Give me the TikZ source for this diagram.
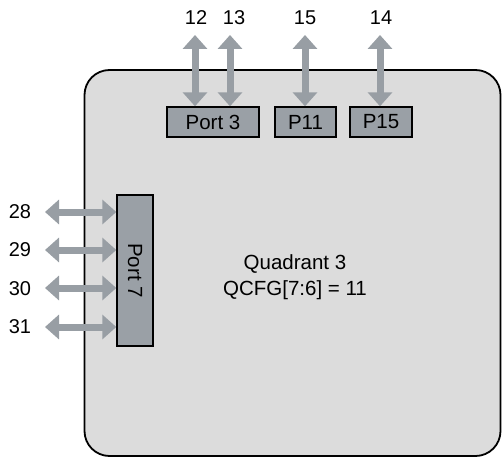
\documentclass[tikz,border=0pt]{standalone}
\usepackage{fontspec}
\setmainfont{Liberation Sans}
\usetikzlibrary{arrows.meta}
\definecolor{bgfill}{HTML}{DCDCDC}
\definecolor{portfill}{HTML}{9AA0A6}
\definecolor{arrowgray}{HTML}{989EA4}
\tikzset{
  tipA/.tip={Triangle[width=24pt,length=14pt]},
}
\begin{document}
\begin{tikzpicture}[x=1pt,y=-1pt,
  lbl/.style={font=\fontsize{20}{24}\selectfont, inner sep=0pt},
  portbox/.style={draw=black, line width=1.4pt, fill=portfill, inner sep=0pt, font=\fontsize{20.5}{24}\selectfont},
  biarrow/.style={draw=arrowgray, line width=7pt, tipA-tipA}]
\useasboundingbox (0,0) rectangle (502,457);
\node[draw=black, line width=1.8pt, fill=bgfill, rounded corners=25pt, minimum width=416pt, minimum height=386pt, inner sep=0pt] (quad) at (292.5,263) {};
\node[align=center, font=\fontsize{20.5}{26}\selectfont, inner sep=0pt] (qtext) at (295,277) {Quadrant 3\\QCFG[7:6] = 11};
% top ports
\node[portbox, minimum width=92pt, minimum height=30pt] (p3) at (213,122) {Port 3};
\node[portbox, minimum width=61pt, minimum height=30pt] (p11) at (305.5,122) {P11};
\node[portbox, minimum width=62pt, minimum height=30pt] (p15) at (381,122) {P15};
\node[portbox, minimum width=36pt, minimum height=151pt] (p7) at (135,270.5) {\rotatebox{-90}{Port 7}};
% top labels
\node[lbl] (l12) at (196,18) {12};
\node[lbl] (l13) at (234,18) {13};
\node[lbl] (l15) at (305,18) {15};
\node[lbl] (l14) at (381,18) {14};
\coordinate (t12) at (195,35);
\coordinate (t13) at (230,35);
\coordinate (t15) at (305,35);
\coordinate (t14) at (380,35);
\draw[biarrow] (t12) -- (p3.north -| t12);
\draw[biarrow] (t13) -- (p3.north -| t13);
\draw[biarrow] (t15) -- (p11.north -| t15);
\draw[biarrow] (t14) -- (p15.north -| t14);
% left labels
\node[lbl] (l28) at (20,212) {28};
\node[lbl] (l29) at (20,250) {29};
\node[lbl] (l30) at (20,289) {30};
\node[lbl] (l31) at (20,327) {31};
\coordinate (s28) at (45,212);
\coordinate (s29) at (45,250);
\coordinate (s30) at (45,288);
\coordinate (s31) at (45,327);
\draw[biarrow] (s28) -- (s28 -| p7.west);
\draw[biarrow] (s29) -- (s29 -| p7.west);
\draw[biarrow] (s30) -- (s30 -| p7.west);
\draw[biarrow] (s31) -- (s31 -| p7.west);
\end{tikzpicture}
\end{document}
